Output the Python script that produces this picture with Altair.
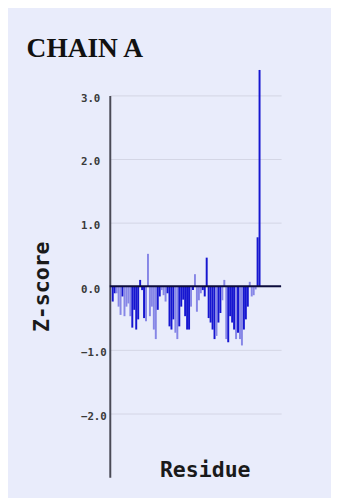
import altair as alt
import pandas as pd

residues = list(range(1, 77))
zscores = [
    -0.24, -0.11, -0.11, -0.32, -0.45, -0.16, -0.47, -0.32, -0.27, -0.47,
    -0.65, -0.37, -0.68, -0.52, 0.10, -0.06, -0.50, -0.55, 0.51, -0.47,
    -0.32, -0.68, -0.83, -0.37, -0.16, -0.06, -0.14, -0.24, -0.11, -0.63,
    -0.68, -0.52, -0.73, -0.83, -0.63, -0.32, -0.21, -0.47, -0.68, -0.68,
    -0.32, -0.06, 0.19, -0.40, -0.22, -0.11, -0.06, -0.16, 0.45, -0.50,
    -0.57, -0.68, -0.83, -0.78, -0.57, -0.42, -0.22, 0.10, -0.83, -0.88,
    -0.47, -0.57, -0.68, -0.83, -0.73, -0.83, -0.93, -0.68, -0.52, -0.32,
    0.07, -0.16, -0.14, -0.05, 0.77, 3.40,
]
shades = list(
    "ddllldllll"
    "dddddddlll"
    "lllddllldd"
    "ddlldddddd"
    "ldlllldddd"
    "dddlddllld"
    "dddldllddd"
    "lllldd"
)
y_ticks = [-2, -1, 0, 1, 2, 3]

df = pd.DataFrame({"residue": residues, "z": zscores, "shade": shades})

BG = "#e9ecfb"
MONO = "DejaVu Sans Mono"

x_scale = alt.Scale(domain=[-0.5, 87], nice=False, zero=False)
y_scale = alt.Scale(domain=[-3, 3], nice=False)

bars = (
    alt.Chart(df)
    .transform_calculate(x0="datum.residue - 0.5", x1="datum.residue + 0.5")
    .mark_bar(strokeWidth=0)
    .encode(
        x=alt.X(
            "x0:Q",
            scale=x_scale,
            axis=alt.Axis(
                title="Residue",
                domain=False,
                ticks=False,
                labels=False,
                grid=False,
                titleFont=MONO,
                titleFontSize=22,
                titleFontWeight="bold",
                titleColor="#1a1a1a",
                titleX=97,
                titleY=-1,
                titleBaseline="alphabetic",
                titleAlign="center",
            ),
        ),
        x2="x1:Q",
        y=alt.Y(
            "z:Q",
            scale=y_scale,
            stack=None,
            axis=alt.Axis(
                title="Z-score",
                values=y_ticks,
                format=".1f",
                grid=True,
                gridColor="#d3d5e4",
                gridWidth=1,
                domain=True,
                domainColor="#4a4a55",
                domainWidth=2,
                ticks=False,
                tickSize=0,
                labelAlign="left",
                labelPadding=30,
                labelOffset=3,
                labelFont=MONO,
                labelFontSize=11,
                labelFontWeight="bold",
                labelColor="#3a3a3a",
                titleFont=MONO,
                titleFontSize=22,
                titleFontWeight="bold",
                titleColor="#1a1a1a",
                titleX=-63,
                titleBaseline="alphabetic",
                titleAngle=-90,
            ),
        ),
        y2=alt.datum(0),
        color=alt.Color(
            "shade:N",
            scale=alt.Scale(domain=["d", "l"], range=["#1616d0", "#8686e6"]),
            legend=None,
        ),
    )
)

zero_line = (
    alt.Chart(pd.DataFrame({"z": [0]}))
    .mark_rule(color="#0c0c3c", strokeWidth=2)
    .encode(y=alt.Y("z:Q", scale=y_scale))
)

chart = (
    alt.layer(bars, zero_line)
    .properties(
        width=175,
        height=390,
        background=BG,
        autosize=alt.AutoSizeParams(type="none"),
        padding={"left": 104, "top": 84, "right": 51, "bottom": 16},
        title=alt.TitleParams(
            "CHAIN A",
            font="Liberation Serif",
            fontSize=28,
            fontWeight="bold",
            color="#111111",
            anchor="start",
            frame="group",
            dx=-85,
            offset=-15,
            baseline="alphabetic",
        ),
    )
    .configure_view(stroke=None)
)

chart.save("out.html", embed_options={"renderer": "svg", "actions": False})
